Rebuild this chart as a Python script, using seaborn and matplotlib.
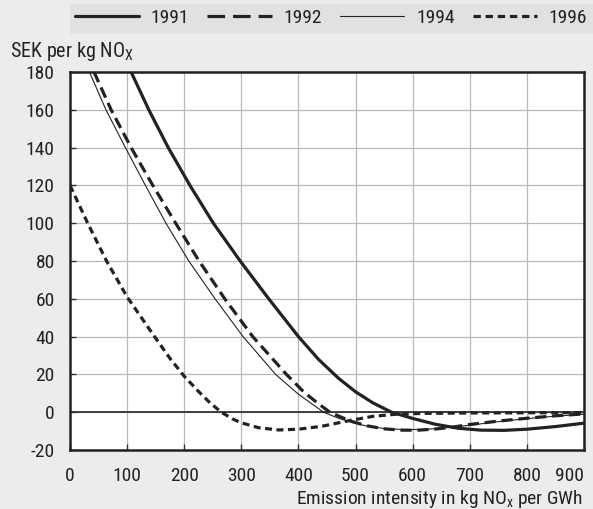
import matplotlib
matplotlib.use("Agg")
import matplotlib.pyplot as plt
from matplotlib import font_manager
from matplotlib.lines import Line2D
from matplotlib.patches import Rectangle
import pandas as pd
import seaborn as sns

# values
x_1991 = [107, 138, 172, 210, 251, 298, 348, 400, 435, 470, 500, 530, 563, 600, 640, 680, 720, 760, 800, 850, 900]
y_1991 = [180, 160, 140, 120, 100, 80, 60, 40, 28, 18, 10.8, 5, 0, -3.3, -6.4, -8.5, -9.5, -9.6, -9.0, -7.6, -5.8]

x_1992 = [42, 72, 107, 145, 185, 226, 271, 320, 379, 410, 435, 455, 490, 520, 550, 580, 610, 640, 670, 700, 750, 800, 850, 900]
y_1992 = [180, 160, 140, 120, 100, 80, 60, 40, 20, 10.5, 4.5, 0, -4.6, -7.2, -8.8, -9.5, -9.5, -8.9, -7.9, -6.5, -4.7, -3.2, -1.9, -0.9]

x_1994 = [34, 63, 97, 132, 168, 208, 254, 303, 360, 400, 444, 470, 491, 520, 555, 590, 620, 650, 700, 750, 800, 850, 900]
y_1994 = [180, 160, 140, 120, 100, 80, 60, 40, 20, 9.5, 0, -3.2, -5.2, -7.4, -8.8, -9.2, -9.1, -8.5, -6.9, -5.0, -3.4, -2.1, -1.1]

x_1996 = [0, 31, 64, 100, 148, 175, 200, 225, 245, 265, 285, 300, 330, 365, 400, 440, 490, 530, 570, 620, 700, 800, 900]
y_1996 = [120, 100, 80, 61, 40, 28.5, 19, 11, 5, 0, -3.6, -5.6, -8.2, -9.4, -9.0, -7.5, -4.4, -2.2, -1.1, -0.6, -0.4, -0.3, -0.2]

years = ["1991", "1992", "1994", "1996"]
x_ticks = [0, 100, 200, 300, 400, 500, 600, 700, 800, 900]
y_ticks = [-20, 0, 20, 40, 60, 80, 100, 120, 140, 160, 180]

series = {"1991": (x_1991, y_1991), "1992": (x_1992, y_1992),
          "1994": (x_1994, y_1994), "1996": (x_1996, y_1996)}
df = pd.concat(
    [pd.DataFrame({"x": xs, "y": ys, "year": yr}) for yr, (xs, ys) in series.items()],
    ignore_index=True,
)

# pick a condensed sans if one is installed
wanted = ["Nimbus Sans Narrow", "Liberation Sans Narrow", "Arial Narrow", "Roboto Condensed",
          "Archivo Narrow", "PT Sans Narrow", "Fira Sans Condensed", "IBM Plex Sans Condensed",
          "Open Sans Condensed", "Barlow Semi Condensed", "Asap Condensed"]
installed = {f.name for f in font_manager.fontManager.ttflist}
narrow = next((n for n in wanted if n in installed), None)
if narrow is None:
    narrow = next((n for n in sorted(installed)
                   if ("Condensed" in n or "Narrow" in n) and "Sans" in n), "DejaVu Sans")

sns.set_theme(style="white")
plt.rcParams["font.family"] = [narrow, "DejaVu Sans"]
plt.rcParams["mathtext.default"] = "regular"
plt.rcParams["axes.unicode_minus"] = False

BG = "#ececec"
INK = "#222222"
FS = 14
dashes = {"1991": "", "1992": (3.5, 1.8), "1994": "", "1996": (2.2, 1.4)}
sizes = {"1991": 2.3, "1992": 2.3, "1994": 0.8, "1996": 2.3}

fig = plt.figure(figsize=(5.93, 5.09), dpi=100, facecolor=BG)
ax = fig.add_axes([70 / 593, 1 - 450 / 509, 514 / 593, 378 / 509])
ax.set_facecolor("white")

ax.grid(True, color="#b8b8b8", linewidth=0.9)
ax.set_axisbelow(True)
ax.axhline(0, color="#333333", linewidth=1.3, zorder=1.5)

sns.lineplot(
    data=df, x="x", y="y", hue="year", style="year", size="year",
    palette={y: INK for y in years}, dashes=dashes, sizes=sizes,
    sort=False, estimator=None, legend=False, ax=ax, zorder=3,
)

ax.set_xlim(0, 900)
ax.set_ylim(-20, 180)
ax.set_xticks(x_ticks)
ax.set_yticks(y_ticks)
ax.set_xlabel("")
ax.set_ylabel("")
ax.tick_params(axis="both", direction="in", length=4, width=1, color="#333333",
               labelsize=FS, labelcolor=INK, left=True, bottom=True)
ax.tick_params(axis="x", pad=12)
ax.tick_params(axis="y", pad=11)
ax.get_xticklabels()[-1].set_horizontalalignment("right")
for s in ax.spines.values():
    s.set_color(INK)
    s.set_linewidth(1.8)

fig.text(10 / 593, 1 - 57 / 509, "SEK per kg NO$_X$", fontsize=FS + 0.5, color=INK, va="baseline")
fig.text(583 / 593, 1 - 504 / 509, "Emission intensity in kg NO$_x$ per GWh",
         fontsize=FS, color=INK, ha="right", va="baseline")

# legend strip
fig.patches.append(Rectangle((70 / 593, 1 - 34 / 509), 523 / 593, 30 / 509,
                             transform=fig.transFigure, facecolor="#e1e1e1",
                             edgecolor="none", zorder=0))
handles = [
    Line2D([], [], color=INK, lw=2.3),
    Line2D([], [], color=INK, lw=2.3, dashes=(5.5, 2.5)),
    Line2D([], [], color=INK, lw=0.8),
    Line2D([], [], color=INK, lw=2.3, dashes=(2.3, 1.5)),
]
fig.legend(handles, years, ncol=4, loc="center", frameon=False,
           bbox_to_anchor=(331 / 593, 1 - 18 / 509), fontsize=FS,
           handlelength=3.3, handletextpad=0.6, columnspacing=0.95,
           labelcolor=INK)

fig.savefig("out.png", dpi=100, facecolor=BG)
